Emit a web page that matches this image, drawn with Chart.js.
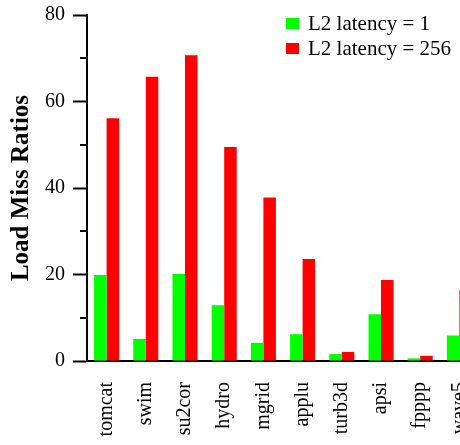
<!DOCTYPE html>
<html>
<head>
<meta charset="utf-8">
<script src="https://cdn.jsdelivr.net/npm/chart.js@4.4.1/dist/chart.umd.min.js"></script>
<style>
  html, body { margin: 0; padding: 0; background: #fff; overflow: hidden; width: 460px; height: 445px; }
  #wrap { position: relative; width: 460px; height: 445px; overflow: hidden; }
  #missChart { position: absolute; left: 0; top: 0; display: block; }
</style>
</head>
<body>
<div id="wrap"><canvas id="missChart" width="480" height="445"></canvas></div>
<script>
// data
const benchmarks = ['tomcat', 'swim', 'su2cor', 'hydro', 'mgrid', 'applu', 'turb3d', 'apsi', 'fpppp', 'wave5'];
const latency1 = [19.9, 5.1, 20.1, 12.9, 4.2, 6.2, 1.6, 10.8, 0.6, 5.9];
const latency256 = [56.1, 65.7, 70.7, 49.5, 37.8, 23.6, 2.1, 18.7, 1.2, 16.4];
const seriesNames = ['L2 latency = 1', 'L2 latency = 256'];
const yMinorTicks = [10, 30, 50, 70];

const serif = "'Liberation Serif', 'Times New Roman', serif";

// short minor ticks on the y axis
const minorTicksPlugin = {
    id: 'minorTicks',
    afterDraw: (chart) => {
        const { ctx } = chart;
        const y = chart.scales.y;
        ctx.save();
        ctx.strokeStyle = '#000';
        ctx.lineWidth = 2;
        yMinorTicks.forEach(v => {
            const py = Math.round(y.getPixelForValue(v));
            ctx.beginPath();
            ctx.moveTo(y.right - 7, py);
            ctx.lineTo(y.right, py);
            ctx.stroke();
        });
        ctx.restore();
    }
};

// legend drawn in the upper right corner of the plot
const cornerLegendPlugin = {
    id: 'cornerLegend',
    afterDraw: (chart) => {
        const { ctx } = chart;
        ctx.save();
        ctx.font = '21px ' + serif;
        ctx.textBaseline = 'middle';
        ctx.textAlign = 'left';
        chart.data.datasets.forEach((ds, i) => {
            const cy = 23 + i * 25;
            ctx.fillStyle = ds.backgroundColor;
            ctx.fillRect(286, cy - 5, 13, 11);
            ctx.fillStyle = '#000';
            ctx.fillText(ds.label, 308, cy + 1);
        });
        ctx.restore();
    }
};

const ctx = document.getElementById('missChart').getContext('2d');

new Chart(ctx, {
    type: 'bar',
    data: {
        labels: benchmarks,
        datasets: [
            { label: seriesNames[0], data: latency1, backgroundColor: '#00ff00' },
            { label: seriesNames[1], data: latency256, backgroundColor: '#ff0000' }
        ]
    },
    options: {
        responsive: false,
        animation: false,
        devicePixelRatio: 1,
        layout: { padding: { top: 15, right: 1, bottom: 0, left: 0 } },
        datasets: {
            bar: { barPercentage: 1.0, categoryPercentage: 0.638, borderWidth: 0 }
        },
        plugins: {
            legend: { display: false },
            tooltip: { enabled: false }
        },
        scales: {
            x: {
                grid: { display: false, drawTicks: false },
                border: { display: true, color: '#000', width: 2 },
                ticks: {
                    color: '#000',
                    font: { family: serif, size: 20 },
                    minRotation: 90,
                    maxRotation: 90,
                    autoSkip: false,
                    padding: 21
                },
                afterFit: (scale) => {
                    scale.height = 84;
                    // no extra room for the rotated end labels
                    scale.paddingLeft = 0;
                    scale.paddingRight = 0;
                }
            },
            y: {
                min: 0,
                max: 80,
                grid: {
                    drawOnChartArea: false,
                    drawTicks: true,
                    tickLength: 14,
                    tickColor: '#000',
                    tickWidth: 2
                },
                border: { display: true, color: '#000', width: 2 },
                ticks: {
                    stepSize: 20,
                    color: '#000',
                    font: { family: serif, size: 20 },
                    padding: 8
                },
                title: {
                    display: true,
                    text: 'Load Miss Ratios',
                    color: '#000',
                    font: { family: serif, size: 25, weight: 'bold' },
                    padding: { top: 7, bottom: 0 }
                },
                afterFit: (scale) => {
                    scale.width = 87;
                    scale.paddingTop = 0;
                    scale.paddingBottom = 0;
                }
            }
        }
    },
    plugins: [minorTicksPlugin, cornerLegendPlugin]
});
</script>
</body>
</html>
